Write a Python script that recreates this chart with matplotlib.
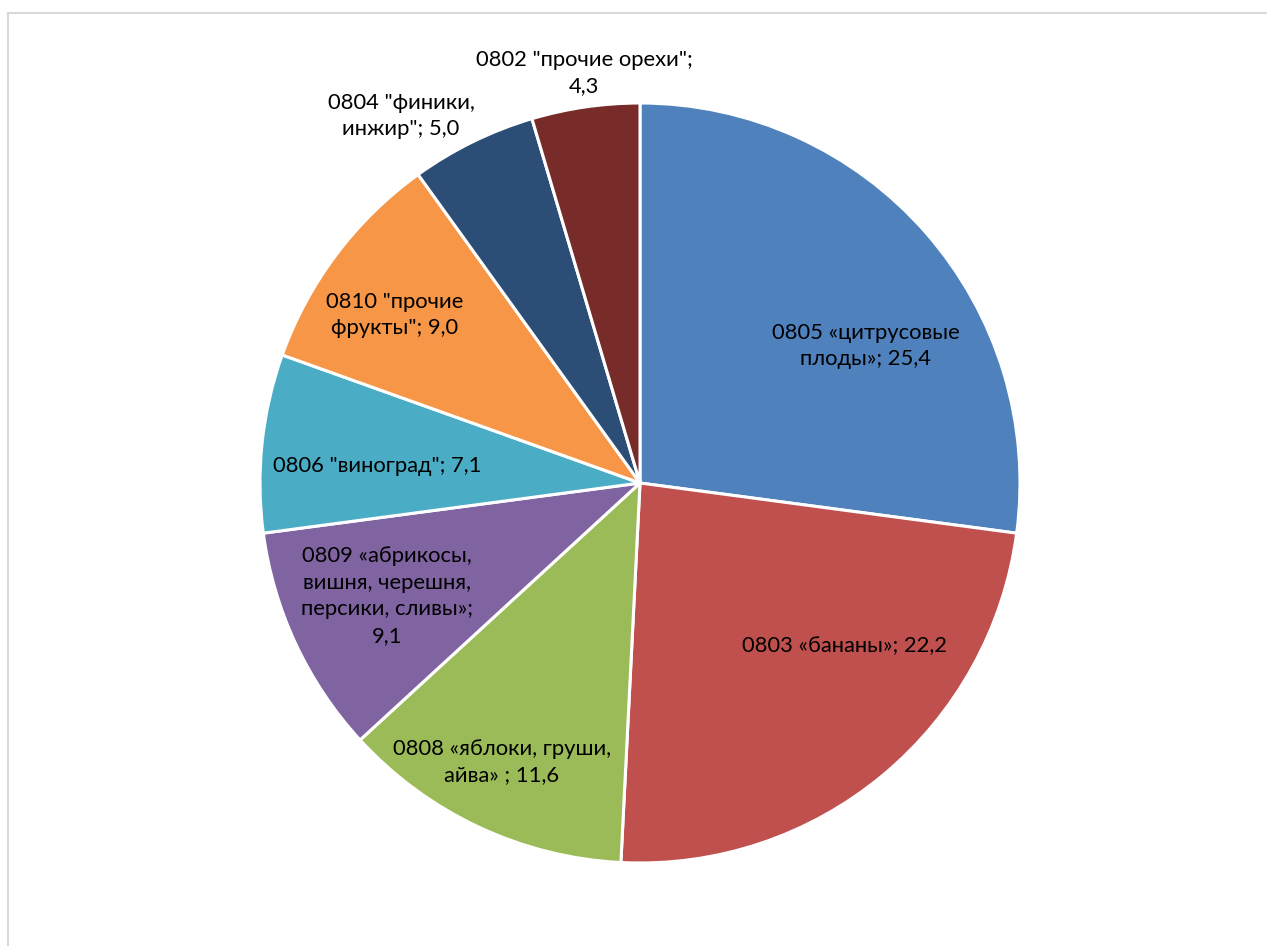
import matplotlib
matplotlib.use("Agg")
import matplotlib.pyplot as plt
from matplotlib.lines import Line2D

plt.rcParams['font.family'] = ['Lato', 'DejaVu Sans']

labels = ['0805 «цитрусовые\nплоды»; 25,4',
          '0803 «бананы»; 22,2',
          '0808 «яблоки, груши,\nайва» ; 11,6',
          '0809 «абрикосы,\nвишня, черешня,\nперсики, сливы»;\n9,1',
          '0806 "виноград"; 7,1',
          '0810 "прочие\nфрукты"; 9,0',
          '0804 "финики,\nинжир"; 5,0',
          '0802 "прочие орехи";\n4,3']
values = [25.4, 22.2, 11.6, 9.1, 7.1, 9.0, 5.0, 4.3]
colors = ['#4F81BD', '#C0504D', '#9BBB59', '#8064A2', '#4BACC6', '#F79646', '#2C4D75', '#772C2A']

# label centres in pixel coordinates of the reference (layout only)
label_px = [(866, 346), (844, 646), (502, 762), (387, 596), (377, 466),
            (395, 315), (401, 116), (584, 73)]

W, H = 1267, 946
cx, cy, R = 640, 483, 380

fig = plt.figure(figsize=(W / 100, H / 100), dpi=100)
ax = fig.add_axes([(cx - R) / W, (H - cy - R) / H, 2 * R / W, 2 * R / H])
ax.pie(values, colors=colors, startangle=90, counterclock=False, radius=1,
       wedgeprops=dict(edgecolor='white', linewidth=2.2, joinstyle='miter'))
ax.set_xlim(-1, 1)
ax.set_ylim(-1, 1)
ax.set_aspect('equal')
ax.axis('off')

for lab, (px, py) in zip(labels, label_px):
    ax.text((px - cx) / R, (cy - py) / R, lab, ha='center', va='center',
            fontsize=15.8, linespacing=1.4, color='black')

# light grey chart frame (top and left edges)
fig.add_artist(Line2D([8 / W, 1], [1 - 13 / H, 1 - 13 / H], color='#D9D9D9', lw=1.5, transform=fig.transFigure))
fig.add_artist(Line2D([8 / W, 8 / W], [0, 1 - 13 / H], color='#D9D9D9', lw=1.5, transform=fig.transFigure))

fig.savefig('out.png', dpi=100, facecolor='white')
